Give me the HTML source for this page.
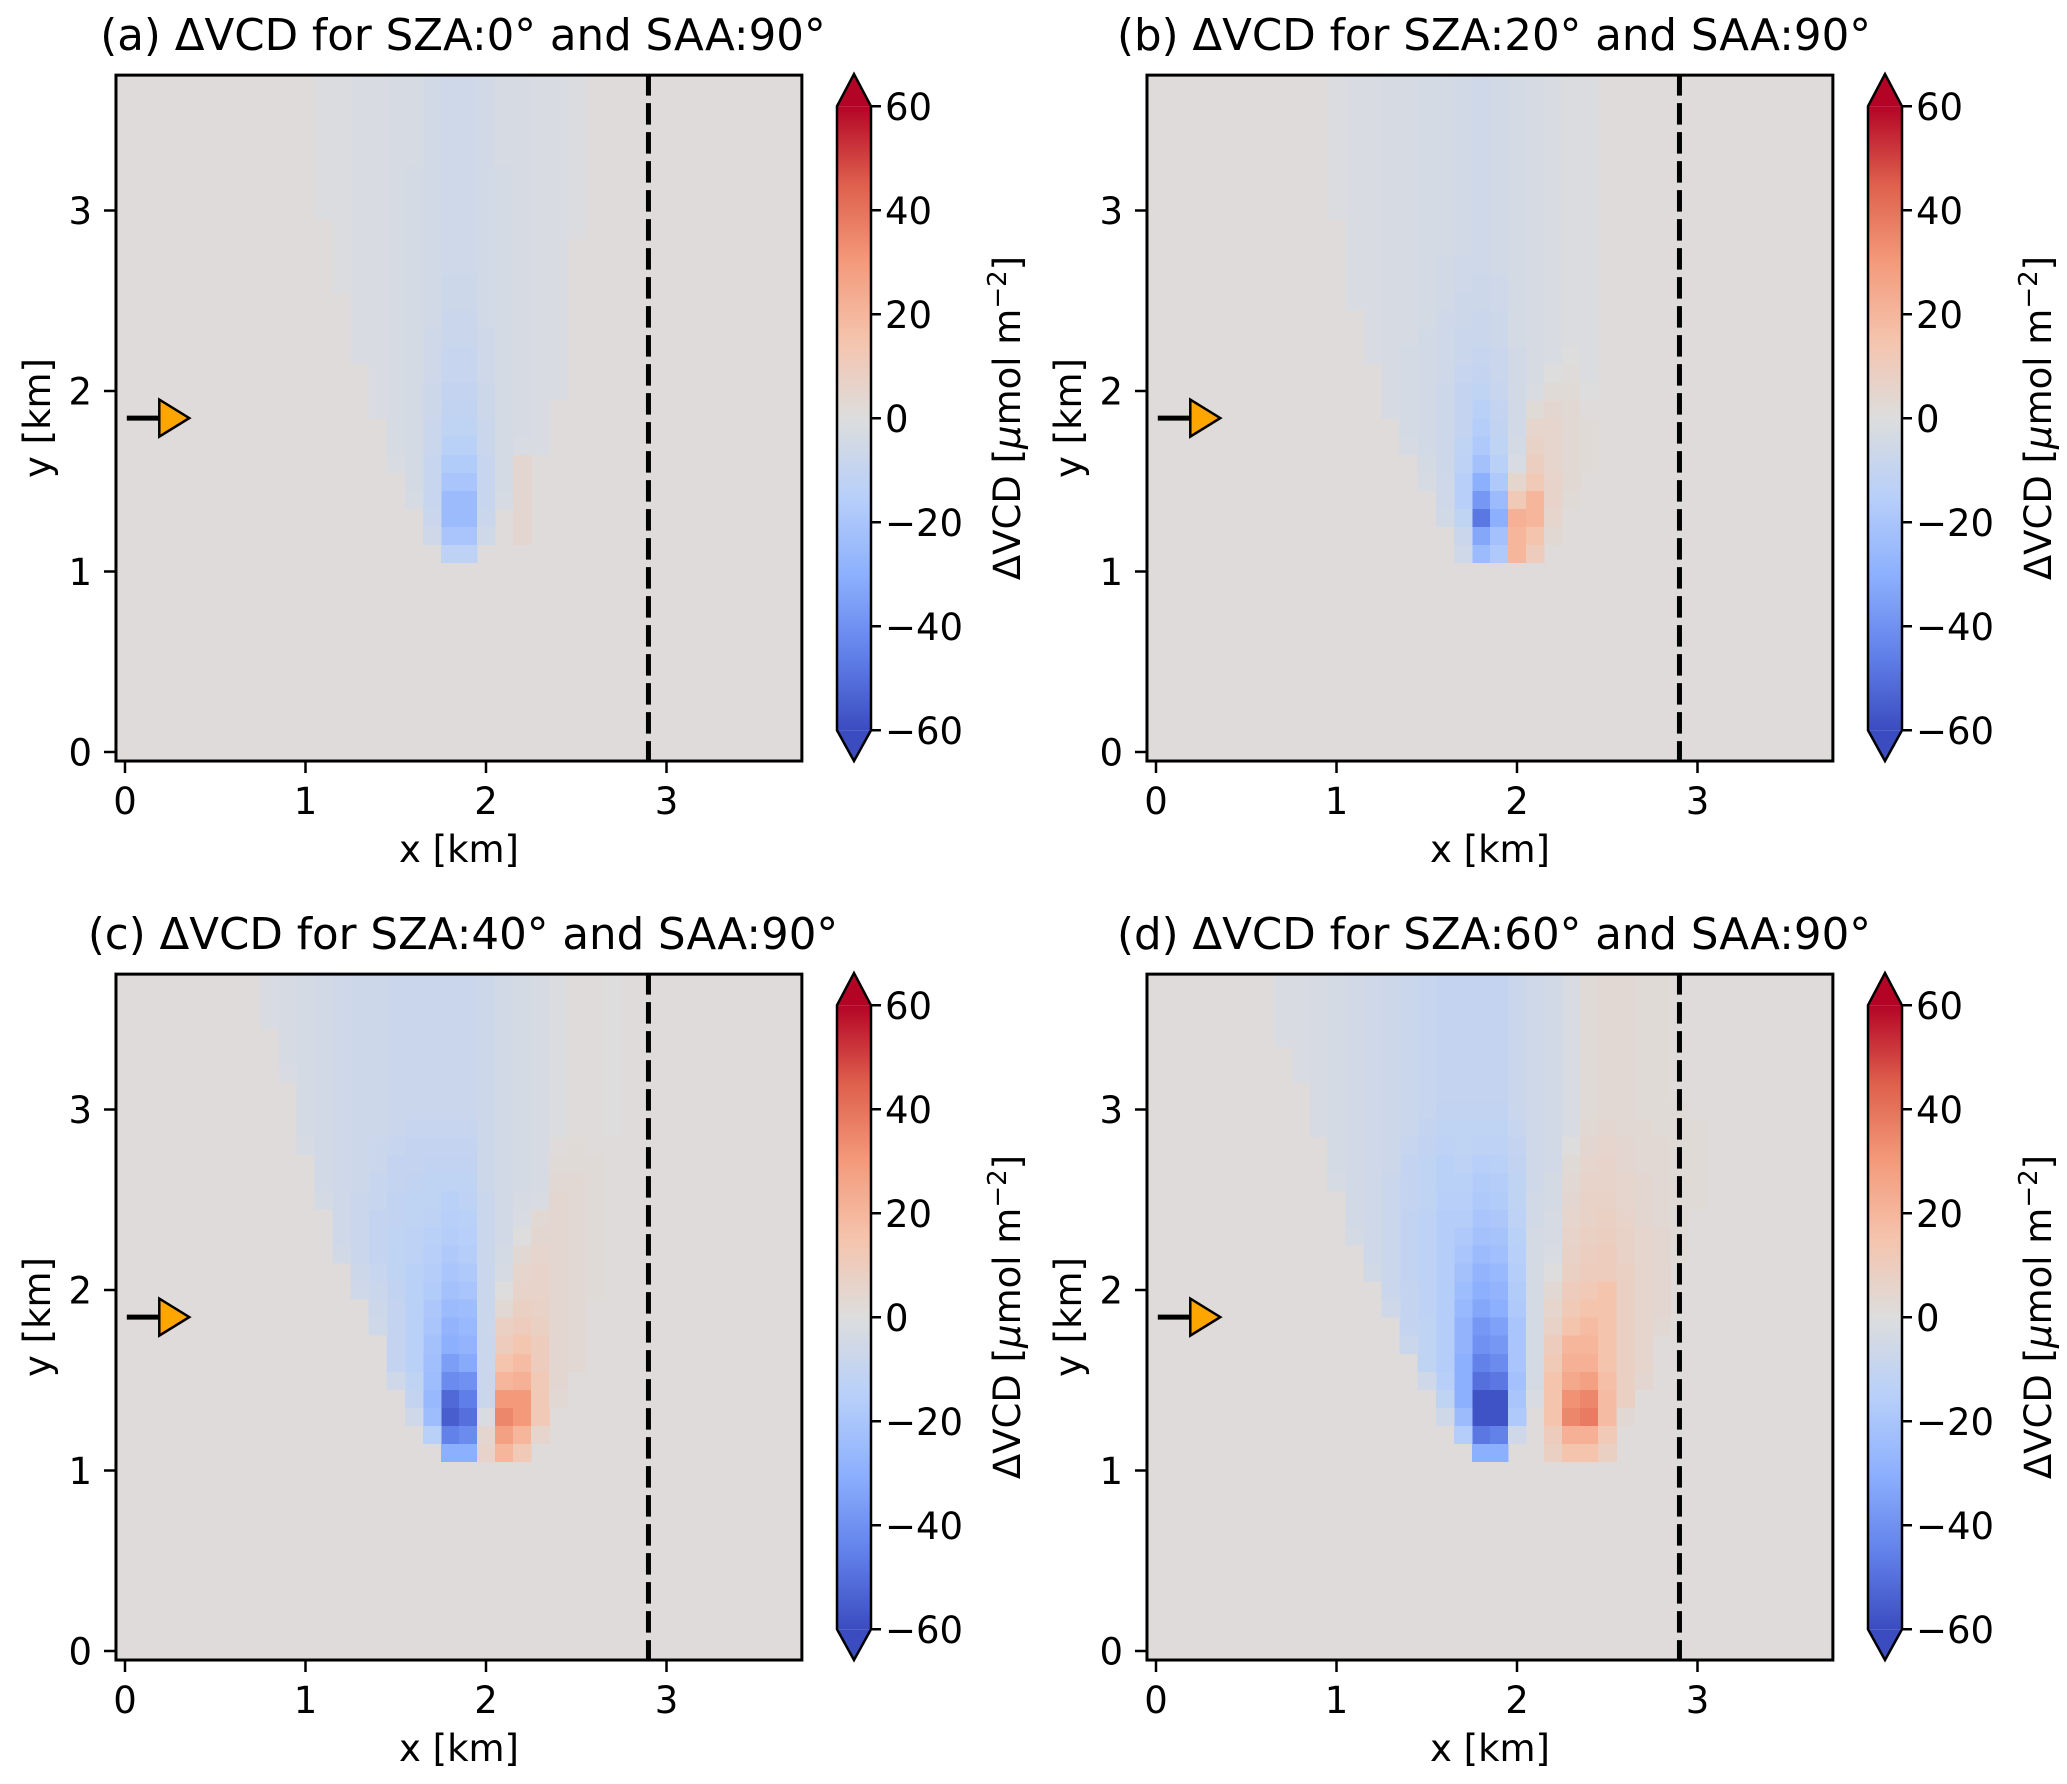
<!DOCTYPE html>
<html><head><meta charset="utf-8"><style>
html,body{margin:0;padding:0;background:#fff;}
svg{display:block;font-family:"DejaVu Sans","Liberation Sans",sans-serif;}
</style></head><body>
<svg id="fig" width="2067" height="1784" viewBox="0 0 2067 1784" xmlns="http://www.w3.org/2000/svg"></svg>
<script>
const titles = ['(a) ΔVCD for SZA:0° and SAA:90°','(b) ΔVCD for SZA:20° and SAA:90°','(c) ΔVCD for SZA:40° and SAA:90°','(d) ΔVCD for SZA:60° and SAA:90°'];
const xTicks = [0,1,2,3];
const yTicks = [0,1,2,3];
const cbTicks = [60,40,20,0,-20,-40,-60];
const cbTickLabels = ['60','40','20','0','\u221220','\u221240','\u221260'];
const bgValue = 1;
const dashX = 2.9;
const arrowY = 1.85;
// column data: [x centre km, first row y centre km, values going up (last value holds to top)]
const colsA = [
 [1.8,1.1,[-13,-20,-25,-25,-20,-17,-14,-12,-11,-10,-9,-9,-8,-8,-7,-7,-6]],
 [1.9,1.1,[-13,-20,-25,-25,-20,-17,-14,-12,-11,-10,-9,-9,-8,-8,-7,-7,-6]],
 [1.7,1.2,[-6,-8,-9,-9,-9,-8,-8,-7,-7,-6,-6,-6,-5]],
 [2.0,1.2,[-6,-8,-9,-9,-9,-8,-8,-7,-7,-6,-6,-6,-5]],
 [1.6,1.4,[-3,-4,-4,-4,-4,-4,-4,-4,-4,-4,-4,-4,-4,-4,-4,-4,-4,-4,-4,-3]],
 [2.1,1.4,[-3,-4,-4,-4,-4,-4,-4,-4,-4,-4,-4,-4,-4,-4,-4,-4,-4,-4,-4,-3]],
 [2.2,1.2,[4,4,4,4,4,-2,-3]],
 [1.5,1.6,[-2,-3]],
 [2.3,1.7,[-2]],
 [1.4,1.9,[-2]],
 [1.3,2.2,[-2]],
 [2.4,2.0,[-2]],
 [1.2,2.6,[-1]],
 [2.5,2.9,[-1]],
 [1.1,3.0,[-1]]
];
const colsB = [
 [1.8,1.1,[-25,-33,-48,-38,-30,-22,-18,-16,-14,-12,-10,-9,-8,-8,-7,-7,-6]],
 [1.9,1.1,[-18,-22,-30,-25,-18,-14,-12,-11,-10,-9,-8,-8,-7,-7,-6,-6,-5]],
 [1.7,1.1,[-6,-8,-12,-15,-15,-13,-12,-10,-10,-10,-9,-8,-8,-7,-7,-6,-6,-5]],
 [1.6,1.3,[-5,-6,-6,-7,-7,-7,-7,-7,-6,-6,-6,-6,-5,-5,-5,-4]],
 [1.5,1.5,[-3,-4,-5,-5,-5,-5,-5,-5,-5,-4,-4,-4,-4]],
 [1.4,1.7,[-3,-4,-4,-4,-4,-4,-3]],
 [1.3,1.9,[-3]],
 [1.2,2.2,[-2]],
 [1.1,2.5,[-2]],
 [1.0,3.0,[-1]],
 [2.0,1.1,[20,20,22,12,5,-2,-4,-5,-5,-5,-5,-5,-4]],
 [2.1,1.1,[10,15,20,20,12,9,7,5,2,-2,-3,-3,-3]],
 [2.2,1.2,[3,5,6,6,5,5,5,4,2,0,-2,-2,-2]],
 [2.3,1.4,[2,3,3,3,3,3,2,1,0,-1]],
 [2.4,1.6,[2,2,2,1,0,-1]]
];
const colsC = [
 [1.8,1.1,[-30,-45,-55,-52,-42,-36,-30,-28,-25,-22,-20,-18,-16,-15,-14,-12,-11,-10,-9,-8]],
 [1.9,1.1,[-30,-42,-50,-46,-40,-32,-28,-26,-24,-20,-18,-16,-15,-14,-13,-12,-11,-10,-9,-8]],
 [1.7,1.2,[-14,-24,-26,-24,-23,-22,-20,-19,-17,-16,-15,-14,-13,-12,-12,-11,-10,-9,-8]],
 [1.6,1.3,[-6,-10,-12,-14,-14,-14,-14,-14,-14,-13,-13,-12,-12,-11,-10,-10,-9,-8]],
 [1.5,1.5,[-6,-10,-10,-10,-10,-11,-12,-12,-12,-11,-11,-10,-10,-9,-8]],
 [1.4,1.8,[-6,-7,-8,-9,-10,-10,-10,-9,-9,-8,-8,-7]],
 [1.3,2.0,[-6,-7,-8,-8,-8,-8,-7]],
 [1.2,2.2,[-5,-6,-6,-6,-6]],
 [1.1,2.5,[-4,-5]],
 [1.0,2.8,[-3,-4]],
 [0.9,3.2,[-2,-3]],
 [0.8,3.5,[-2]],
 [2.0,1.1,[6,4,-2,-8,-8,-8,-8,-8,-8,-8,-8,-8,-8,-8,-8,-7]],
 [2.1,1.1,[20,28,35,30,20,15,10,8,3,0,-3,-4,-5,-5,-5,-5]],
 [2.2,1.1,[12,20,30,30,22,18,14,10,8,6,5,3,0,-2,-3,-4]],
 [2.3,1.2,[5,12,12,12,10,10,8,7,6,6,5,4,3,-2,-3]],
 [2.4,1.4,[3,4,4,4,4,4,4,4,4,4,4,4,3,2,1,-1]],
 [2.5,1.6,[3,3,3,3,3,3,3,3,3,3,3,2,2,1]],
 [2.6,2.0,[2,2,2,2,2,2,2,2,1]],
 [2.7,2.5,[1,1,1,1,0]]
];
const colsD = [
 [1.8,1.1,[-30,-48,-58,-58,-50,-45,-40,-38,-33,-30,-28,-25,-22,-20,-18,-17,-15,-13,-12,-11,-10]],
 [1.9,1.1,[-30,-45,-58,-58,-48,-42,-38,-35,-30,-28,-26,-23,-21,-19,-17,-16,-14,-13,-12,-11,-10]],
 [1.7,1.2,[-16,-25,-30,-30,-30,-28,-28,-26,-24,-22,-20,-18,-16,-15,-14,-13,-12,-12,-11,-10]],
 [2.0,1.2,[-6,-18,-20,-22,-20,-20,-20,-18,-17,-16,-15,-14,-13,-12,-12,-11,-10,-9,-8]],
 [1.6,1.3,[-6,-12,-15,-16,-16,-16,-16,-16,-16,-16,-16,-16,-15,-14,-14,-13,-12,-11,-10]],
 [1.5,1.5,[-6,-12,-12,-12,-13,-13,-13,-13,-13,-13,-12,-12,-12,-11,-10,-9]],
 [1.4,1.7,[-8,-10,-10,-10,-11,-11,-11,-11,-10,-10,-10,-9,-8]],
 [1.3,1.9,[-6,-8,-8,-8,-8,-8,-8,-8,-7]],
 [1.2,2.1,[-5,-6,-6,-6,-6,-6,-6]],
 [1.1,2.3,[-4,-5,-5,-5,-5]],
 [1.0,2.6,[-3,-4,-4,-4]],
 [0.9,2.9,[-3]],
 [0.8,3.2,[-2]],
 [0.7,3.4,[-2]],
 [2.1,1.4,[-2,-4,-4,-4,-4,-4,-4,-4,-4,-4,-5,-5,-6]],
 [2.2,1.1,[8,10,15,15,15,12,10,7,5,3,0,-2,-3,-3,-4,-4,-5]],
 [2.3,1.1,[15,22,35,32,25,22,20,15,12,10,8,7,6,5,4,3,2,0,-2]],
 [2.4,1.1,[15,22,38,35,28,22,20,18,15,12,10,9,8,7,7,6,5,4,3,2]],
 [2.5,1.1,[8,12,18,18,17,15,15,15,15,15,10,10,9,8,7,6,6,5,4,3]],
 [2.6,1.3,[3,8,8,8,8,8,8,8,8,7,7,6,5,5,4,4,3,3]],
 [2.7,1.5,[4,5,5,5,5,5,5,5,5,4,4,4,3,3,3,2]],
 [2.8,1.8,[3,4,4,4,4,4,3,3,3,3,3,2]],
 [2.9,2.2,[2,2,2,2,2,2,2,2,2,1]],
 [3.0,2.5,[2,2,2,2,2,1]],
 [3.1,2.8,[1,1,1,1]]
];
const panelCols = [colsA, colsB, colsC, colsD];

const NS='http://www.w3.org/2000/svg';
const svg=document.getElementById('fig');
const CM=[[0,59,76,192],[0.125,98,130,234],[0.25,141,176,254],[0.375,184,208,249],[0.5,221,221,221],[0.625,245,196,173],[0.75,244,154,123],[0.875,222,96,77],[1,180,4,38]];
function cmap(v){let t=(v+60)/120;t=Math.max(0,Math.min(1,t));
 for(let i=1;i<CM.length;i++){if(t<=CM[i][0]){const a=CM[i-1],b=CM[i],f=(t-a[0])/(b[0]-a[0]);
 return 'rgb('+[1,2,3].map(k=>Math.round(a[k]+(b[k]-a[k])*f)).join(',')+')';}}return 'rgb(180,4,38)';}
function mk(tag,attrs,parent){const e=document.createElementNS(NS,tag);for(const k in attrs)e.setAttribute(k,attrs[k]);(parent||svg).appendChild(e);return e;}

const offsets=[[0,0],[1031,0],[0,899],[1031,899]];
const XMIN=-0.05,XMAX=3.75,YMIN=-0.05,YMAX=3.75;
offsets.forEach((o,p)=>{
 const ox=o[0],oy=o[1];
 const sx=x=>ox+125+180.5*x, sy=y=>oy+752-180.5*y;
 const cy=v=>oy+418.25-v*5.2;
 const g=mk('g',{});
 
 
 const bg=mk('rect',{x:sx(XMIN),y:sy(YMAX),width:sx(XMAX)-sx(XMIN),height:sy(YMIN)-sy(YMAX),fill:cmap(bgValue)},g);
 
 
 const hg=mk('g',{'shape-rendering':'crispEdges'},g);
 
 
 panelCols[p].forEach(c=>{
  const xc=c[0],y0=c[1],vals=c[2];
  vals.forEach((v,k)=>{
   const yc=y0+0.1*k;
   const yTop=(k===vals.length-1)?YMAX:yc+0.05;
   const r=mk('rect',{x:sx(xc-0.05),y:sy(yTop),width:sx(xc+0.05)-sx(xc-0.05)+0.6,height:sy(yc-0.05)-sy(yTop)+0.6,fill:cmap(v)},hg);
   
   
  });
 });
 // dashed line
 const dl=mk('line',{x1:sx(dashX),x2:sx(dashX),y1:sy(YMAX)-1,y2:sy(YMIN),stroke:'#000','stroke-width':5,'stroke-dasharray':'21.5 7.5'},g);
 
 
 // arrow
 const al=mk('line',{x1:sx(0.01),x2:sx(0.2),y1:sy(arrowY),y2:sy(arrowY),stroke:'#000','stroke-width':5},g);
 
 
 const tx=sx(0.19),ty=sy(arrowY);
 const at=mk('polygon',{points:[tx,ty-18.5,tx,ty+18.5,tx+30,ty].join(' ').replace(/(\S+) (\S+) (\S+) (\S+) (\S+) (\S+)/,'$1,$2 $3,$4 $5,$6'),fill:'#ffa500',stroke:'#000','stroke-width':2.5,'stroke-linejoin':'miter'},g);
 
 
 // spines
 const sp=mk('rect',{x:sx(XMIN),y:sy(YMAX),width:sx(XMAX)-sx(XMIN),height:sy(YMIN)-sy(YMAX),fill:'none',stroke:'#000','stroke-width':3},g);
 
 
 // ticks
 xTicks.forEach(t=>{
  const l=mk('line',{x1:sx(t),x2:sx(t),y1:sy(YMIN),y2:sy(YMIN)+12,stroke:'#000','stroke-width':2.5},g);
  
  
  const tl=mk('text',{x:sx(t),y:oy+814,'font-size':37,'text-anchor':'middle',fill:'#000'},g);
  tl.textContent=String(t);
  
  
 });
 yTicks.forEach(t=>{
  const l=mk('line',{x1:sx(XMIN)-12,x2:sx(XMIN),y1:sy(t),y2:sy(t),stroke:'#000','stroke-width':2.5},g);
  
  
  const tl=mk('text',{x:ox+92,y:sy(t)+13.5,'font-size':37,'text-anchor':'end',fill:'#000'},g);
  tl.textContent=String(t);
  
  
 });
 const xl=mk('text',{x:ox+459,y:oy+862,'font-size':37,'text-anchor':'middle'},g);
 xl.textContent='x [km]';
 
 
 const yl=mk('text',{x:ox+50,y:oy+418,'font-size':37,'text-anchor':'middle',transform:'rotate(-90 '+(ox+50)+' '+(oy+418)+')'},g);
 yl.textContent='y [km]';
 
 
 const ti=mk('text',{x:ox+463,y:oy+50,'font-size':43.5,'text-anchor':'middle'},g);
 ti.textContent=titles[p];
 
 
 // colorbar
 const cg=mk('g',{},g);
 
 
 const gid='cbg'+p;
 const defs=mk('defs',{},cg);
 const lg=mk('linearGradient',{id:gid,x1:0,y1:1,x2:0,y2:0},defs);
 for(let i=0;i<=24;i++){const v=-60+5*i;mk('stop',{offset:(i/24).toFixed(4),'stop-color':cmap(v)},lg);}
 const cx0=ox+837,cx1=ox+871,cxm=(cx0+cx1)/2;
 const cr=mk('rect',{x:cx0,y:cy(60),width:cx1-cx0,height:cy(-60)-cy(60),fill:'url(#'+gid+')'},cg);
 
 
 const tu=mk('polygon',{points:cx0+','+cy(60)+' '+cxm+','+(oy+74)+' '+cx1+','+cy(60),fill:cmap(61)},cg);
 
 
 const td=mk('polygon',{points:cx0+','+cy(-60)+' '+cxm+','+(oy+761)+' '+cx1+','+cy(-60),fill:cmap(-61)},cg);
 
 
 const co=mk('polygon',{points:[cx0+','+cy(60),cxm+','+(oy+74),cx1+','+cy(60),cx1+','+cy(-60),cxm+','+(oy+761),cx0+','+cy(-60)].join(' '),fill:'none',stroke:'#000','stroke-width':2.5},cg);
 
 
 cbTicks.forEach((v,i)=>{
  const l=mk('line',{x1:cx1,x2:cx1+10,y1:cy(v),y2:cy(v),stroke:'#000','stroke-width':2.5},cg);
  
  
  const tl=mk('text',{x:cx1+14,y:cy(v)+13.5,'font-size':37},cg);
  tl.textContent=cbTickLabels[i];
  
  
 });
 const lx=ox+1020,ly=oy+418;
 const cl=mk('text',{x:lx,y:ly,'font-size':37,'text-anchor':'middle',transform:'rotate(-90 '+lx+' '+ly+')'},cg);
 
 
 cl.appendChild(document.createTextNode('ΔVCD ['));
 const mu=mk('tspan',{'font-style':'italic'},cl);mu.textContent='μ';
 cl.appendChild(document.createTextNode('mol m'));
 const sup=mk('tspan',{'font-size':26,dy:-14},cl);sup.textContent='−2';
 const cls=mk('tspan',{dy:14},cl);cls.textContent=']';
});
</script>
</body></html>
